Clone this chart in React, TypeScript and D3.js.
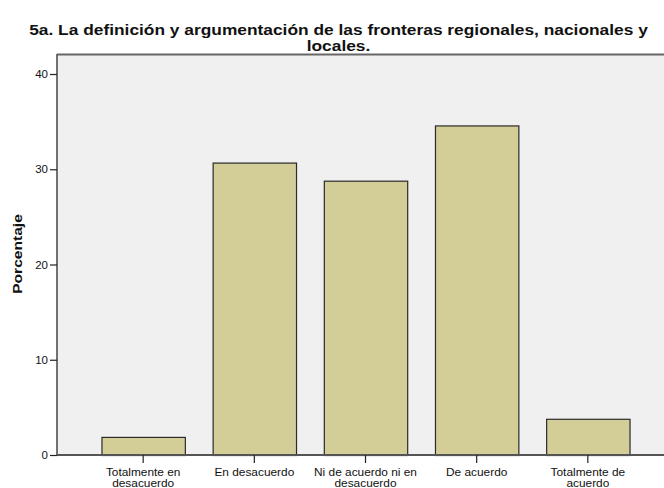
import { useEffect, useRef } from "react";
import { scaleBand, scaleLinear, select, axisLeft, axisBottom } from "d3";

const categories = [
  ["Totalmente en", "desacuerdo"],
  ["En desacuerdo"],
  ["Ni de acuerdo ni en", "desacuerdo"],
  ["De acuerdo"],
  ["Totalmente de", "acuerdo"],
];
const percents = [1.9, 30.7, 28.8, 34.6, 3.8];
const yTicks = [0, 10, 20, 30, 40];
const titleLines = [
  "5a. La definición y argumentación de las fronteras regionales, nacionales y",
  "locales.",
];

const W = 664;
const H = 488;
const left = 57;
const top = 54;
const bottom = 455;
const right = 674;
const font = "Liberation Sans, Arial, sans-serif";

const App = () => {
  const ref = useRef<SVGSVGElement>(null);

  useEffect(() => {
    const svg = select(ref.current);
    svg.selectAll("*").remove();

    const y = scaleLinear().domain([0, 42.1]).range([bottom, top]);
    const x = scaleBand<number>()
      .domain(percents.map((_, i) => i))
      .range([left, right])
      .paddingInner(0.25)
      .paddingOuter(0.4);

    // plot background
    svg
      .append("rect")
      .attr("x", left)
      .attr("y", top)
      .attr("width", right - left)
      .attr("height", bottom - top)
      .attr("fill", "#f0f0f0");

    svg
      .append("line")
      .attr("x1", left)
      .attr("x2", right)
      .attr("y1", top + 0.5)
      .attr("y2", top + 0.5)
      .attr("stroke", "#666")
      .attr("stroke-width", 2);

    svg
      .append("g")
      .selectAll("rect")
      .data(percents)
      .join("rect")
      .attr("x", (_, i) => x(i)! + 0.5)
      .attr("y", (d) => y(d) + 0.5)
      .attr("width", x.bandwidth())
      .attr("height", (d) => bottom - y(d))
      .attr("fill", "#d3ce97")
      .attr("stroke", "#2a2a2a")
      .attr("stroke-width", 1.2);

    const yAxis = svg
      .append("g")
      .attr("transform", `translate(${left},0)`)
      .call(axisLeft(y).tickValues(yTicks).tickSize(7).tickPadding(2));
    yAxis
      .select(".domain")
      .attr("stroke", "#444")
      .attr("stroke-width", 1.5)
      .attr("d", `M0,${top}V${bottom}`);
    yAxis.selectAll(".tick line").attr("stroke", "#222").attr("stroke-width", 1.2);
    yAxis
      .selectAll(".tick text")
      .attr("font-family", font)
      .attr("font-size", 11.5)
      .attr("fill", "#111");

    const xAxis = svg
      .append("g")
      .attr("transform", `translate(0,${bottom})`)
      .call(axisBottom(x).tickSize(8).tickFormat(() => ""));
    xAxis
      .select(".domain")
      .attr("stroke", "#555")
      .attr("stroke-width", 2)
      .attr("d", `M${left},0H${right}`);
    xAxis.selectAll(".tick line").attr("stroke", "#222").attr("stroke-width", 1.2);
    xAxis
      .selectAll(".tick text")
      .attr("font-family", font)
      .attr("font-size", 10.8)
      .attr("fill", "#111")
      .attr("transform", "scale(1.1,1)")
      .each(function (d: any) {
        const t = select(this);
        t.text(null).attr("y", 0).attr("dy", null);
        categories[d].forEach((line, k) => {
          t.append("tspan")
            .attr("x", 0)
            .attr("y", 21.5 + k * 10.5)
            .text(line);
        });
      });

    svg
      .append("text")
      .attr("transform", `translate(17.5,254) rotate(-90) scale(1.2,1)`)
      .attr("text-anchor", "middle")
      .attr("dy", "0.36em")
      .attr("font-family", font)
      .attr("font-weight", "bold")
      .attr("font-size", 13)
      .attr("fill", "#111")
      .text("Porcentaje");

    svg
      .append("g")
      .attr("transform", "translate(338.5,0) scale(1.24,1)")
      .selectAll("text")
      .data(titleLines)
      .join("text")
      .attr("x", 0)
      .attr("y", (_, i) => 35 + i * 16)
      .attr("text-anchor", "middle")
      .attr("font-family", font)
      .attr("font-weight", "bold")
      .attr("font-size", 14)
      .attr("fill", "#111")
      .text((d) => d);
  }, []);

  return (
    <svg
      ref={ref}
      width={W}
      height={H}
      style={{ position: "absolute", left: 0, top: 0, background: "#fff" }}
    />
  );
};

export default App;
